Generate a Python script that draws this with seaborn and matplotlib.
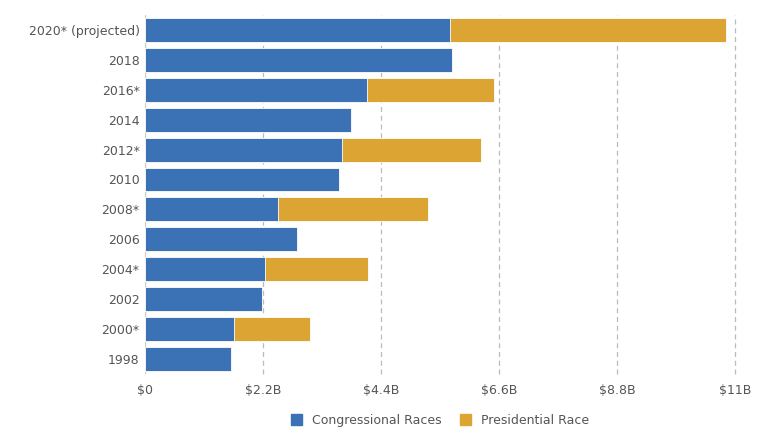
import pandas as pd
import matplotlib.pyplot as plt
import seaborn as sns
from matplotlib.patches import Patch

# Datos (miles de millones de USD)
years = ['2020* (projected)', '2018', '2016*', '2014', '2012*', '2010',
         '2008*', '2006', '2004*', '2002', '2000*', '1998']
congressional = [5.68, 5.73, 4.13, 3.83, 3.67, 3.62, 2.47, 2.84, 2.24, 2.17, 1.66, 1.61]
presidential = [5.16, 0, 2.37, 0, 2.60, 0, 2.81, 0, 1.91, 0, 1.41, 0]
tick_vals = [0, 2.2, 4.4, 6.6, 8.8, 11]
tick_labels = ['$0', '$2.2B', '$4.4B', '$6.6B', '$8.8B', '$11B']

blue = '#3a72b5'
gold = '#dca533'

df = pd.DataFrame({'year': years, 'congressional': congressional, 'presidential': presidential})
df['total'] = df['congressional'] + df['presidential']

sns.set_style('white')
plt.rcParams['font.family'] = ['DejaVu Sans']

fig, ax = plt.subplots(figsize=(7.68, 4.36), dpi=100)
fig.subplots_adjust(left=0.189, right=0.957, top=0.966, bottom=0.142)

# Total primero (dorado), luego congreso encima (azul)
sns.barplot(data=df, x='total', y='year', order=years, color=gold, saturation=1,
            width=0.8, edgecolor='white', linewidth=0.6, ax=ax)
sns.barplot(data=df, x='congressional', y='year', order=years, color=blue, saturation=1,
            width=0.8, edgecolor='white', linewidth=0.6, ax=ax)

ax.set_xlim(0, 11)
ax.set_ylim(11.5, -0.5)
ax.set_xticks(tick_vals)
ax.set_xticklabels(tick_labels)
ax.set_xlabel('')
ax.set_ylabel('')
ax.tick_params(axis='both', length=0, labelsize=9, colors='#555555')
ax.tick_params(axis='y', pad=4)
ax.tick_params(axis='x', pad=7)

for v in tick_vals[1:]:
    ax.axvline(v, color='#bbbbbb', linestyle=(0, (4, 3)), linewidth=0.9, zorder=0, clip_on=False)
ax.axvline(0, color='#cccccc', linewidth=1, zorder=0)
for s in ax.spines.values():
    s.set_visible(False)

handles = [Patch(color=blue, label='Congressional Races'),
           Patch(color=gold, label='Presidential Race')]
fig.legend(handles=handles, loc='center', bbox_to_anchor=(0.573, 0.036), ncol=2,
           frameon=False, fontsize=9, handlelength=0.9, handleheight=0.9,
           columnspacing=1.5, labelcolor='#555555')

fig.savefig('out.png', dpi=100)
